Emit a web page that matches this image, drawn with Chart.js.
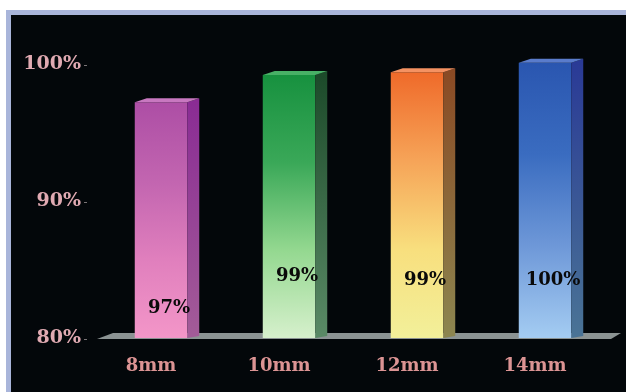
<!DOCTYPE html>
<html>
<head>
<meta charset="utf-8">
<script src="https://cdn.jsdelivr.net/npm/chart.js@4/dist/chart.umd.min.js"></script>
<style>
    html, body { margin: 0; padding: 0; background: #fff; }
    #frame {
        position: absolute; left: 6px; top: 10px;
        width: 615px; height: 377px;
        border-top: 5px solid #a9b5da; border-left: 5px solid #a9b5da;
        background: #03070a;
    }
    canvas { display: block; }
</style>
</head>
<body>
<div id="frame"><canvas id="yieldChart" width="615" height="377"></canvas></div>
<script>
const categories = ['8mm', '10mm', '12mm', '14mm'];
const yieldValues = [97.2, 99.2, 99.4, 100.1];
const yTicks = [80, 90, 100];

// front face gradients, top -> bottom
const frontColors = [
    ['#ad4ea5', '#c265b0', '#e07fbd', '#f396c8'],
    ['#17913f', '#3aa858', '#94d890', '#d6f0cc'],
    ['#ef6a2a', '#f6a458', '#f8df7e', '#f2f09a'],
    ['#2a56b0', '#3a6cc0', '#6e98d8', '#a4ccf2']
];
const sideColors = [
    ['#8a2c94', '#a35c98'],
    ['#1c4a2a', '#5a8a66'],
    ['#8a4a24', '#8c8650'],
    ['#2a3a96', '#4a7496']
];
const topColors = ['#c878c0', '#48b066', '#f49262', '#5a7ccc'];

const DEPTH_X = 12;
const DEPTH_Y = 4;

const gradientFor = (chart, stops, top, bottom) => {
    const g = chart.ctx.createLinearGradient(0, top, 0, bottom);
    stops.forEach((c, k) => g.addColorStop(k / (stops.length - 1), c));
    return g;
};

// floor under the bars
const floorPlugin = {
    id: 'floor',
    beforeDatasetsDraw(chart) {
        const { ctx, chartArea } = chart;
        const y = chart.scales.y.getPixelForValue(yTicks[0]) + 1;
        ctx.save();
        ctx.fillStyle = '#8b9393';
        ctx.beginPath();
        ctx.moveTo(chartArea.left, y);
        ctx.lineTo(chartArea.left + DEPTH_X + 4, y - DEPTH_Y - 2);
        ctx.lineTo(chartArea.right + DEPTH_X, y - DEPTH_Y - 2);
        ctx.lineTo(chartArea.right + 2, y);
        ctx.closePath();
        ctx.fill();
        ctx.restore();
    }
};

// side + top faces, tick dashes and value labels
const boxPlugin = {
    id: 'box3d',
    afterDatasetsDraw(chart) {
        const { ctx } = chart;
        const yScale = chart.scales.y;
        const labelLevels = [82.2, 84.5, 84.2, 84.2];
        chart.getDatasetMeta(0).data.forEach((bar, i) => {
            const left = bar.x - bar.width / 2;
            const right = bar.x + bar.width / 2;
            const top = bar.y;
            const bottom = bar.base;

            ctx.save();
            ctx.fillStyle = gradientFor(chart, sideColors[i], top, bottom);
            ctx.beginPath();
            ctx.moveTo(right, top);
            ctx.lineTo(right + DEPTH_X, top - DEPTH_Y);
            ctx.lineTo(right + DEPTH_X, bottom - DEPTH_Y + 2);
            ctx.lineTo(right, bottom);
            ctx.closePath();
            ctx.fill();

            ctx.fillStyle = topColors[i];
            ctx.beginPath();
            ctx.moveTo(left, top);
            ctx.lineTo(left + DEPTH_X, top - DEPTH_Y);
            ctx.lineTo(right + DEPTH_X, top - DEPTH_Y);
            ctx.lineTo(right, top);
            ctx.closePath();
            ctx.fill();

            ctx.fillStyle = '#0a0a0a';
            ctx.font = 'bold 18px "DejaVu Serif"';
            ctx.textAlign = 'center';
            ctx.textBaseline = 'middle';
            ctx.fillText(Math.round(yieldValues[i]) + '%', bar.x + DEPTH_X / 2 + 2, yScale.getPixelForValue(labelLevels[i]));
            ctx.restore();
        });

        ctx.save();
        ctx.fillStyle = 'rgba(200,190,190,0.6)';
        yTicks.forEach(v => {
            ctx.fillRect(yScale.right - 13, Math.round(yScale.getPixelForValue(v)) + 1, 3, 1);
        });
        ctx.restore();
    }
};

new Chart(document.getElementById('yieldChart'), {
    type: 'bar',
    data: {
        labels: categories,
        datasets: [{
            data: yieldValues,
            base: yTicks[0],
            backgroundColor: (c) => {
                const chart = c.chart;
                if (!chart.chartArea) return frontColors[c.dataIndex][0];
                const top = chart.scales.y.getPixelForValue(yieldValues[c.dataIndex]);
                return gradientFor(chart, frontColors[c.dataIndex], top, chart.chartArea.bottom);
            },
            borderWidth: 0,
            barPercentage: 0.41,
            categoryPercentage: 1,
            clip: false
        }]
    },
    options: {
        responsive: false,
        animation: false,
        layout: { padding: { top: 49, right: 17, left: 0, bottom: 0 } },
        plugins: {
            legend: { display: false },
            tooltip: { enabled: false }
        },
        scales: {
            x: {
                grid: { display: false },
                border: { display: false },
                afterFit: (s) => { s.height = 54; },
                ticks: {
                    color: '#dc9494',
                    padding: 10,
                    labelOffset: -10,
                    font: { family: 'DejaVu Serif', size: 18, weight: 'bold' }
                }
            },
            y: {
                min: 80,
                max: 100,
                afterFit: (s) => { s.width = 86; },
                afterBuildTicks: (s) => { s.ticks = yTicks.map(v => ({ value: v })); },
                grid: { display: false, drawTicks: false },
                border: { display: false },
                ticks: {
                    color: '#e0aab2',
                    padding: 16,
                    callback: (v) => v + '%',
                    font: { family: 'DejaVu Serif', size: 19, weight: 'bold' }
                }
            }
        }
    },
    plugins: [floorPlugin, boxPlugin]
});
</script>
</body>
</html>
